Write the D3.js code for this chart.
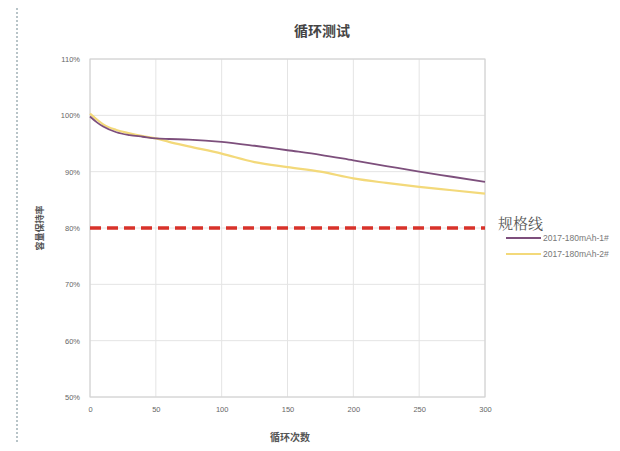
<!DOCTYPE html>
<html><head><meta charset="utf-8">
<script src="https://cdn.jsdelivr.net/npm/d3@7"></script>
<style>body{margin:0;background:#fff;}svg{display:block;}</style>
</head><body>
<svg id="c" width="620" height="451"></svg>
<script>
const cycles = [0,5,10,20,30,40,50,60,75,100,125,150,175,200,225,250,275,300];
const series1 = [99.8,98.8,98.0,97.0,96.5,96.2,95.9,95.8,95.7,95.3,94.6,93.8,93.0,92.0,91.0,90.0,89.1,88.2];
const series2 = [100.3,99.3,98.4,97.4,96.8,96.3,95.9,95.3,94.5,93.2,91.7,90.8,90.0,88.8,88.0,87.3,86.7,86.1];
const seriesNames = ["2017-180mAh-1#","2017-180mAh-2#"];
const specValue = 80;
const xTicks = [0,50,100,150,200,250,300];
const yTicks = [50,60,70,80,90,100,110];

const svg = d3.select("#c");
const m = {l:90,r:135,t:59,b:54};
const W = 620, H = 451;
const x = d3.scaleLinear().domain([0,300]).range([m.l, W-m.r]);
const y = d3.scaleLinear().domain([50,110]).range([H-m.b, m.t]);

// left dotted ruler line
svg.append("line").attr("x1",17).attr("x2",17).attr("y1",8).attr("y2",444)
  .attr("stroke","#b8c4c8").attr("stroke-width",2).attr("stroke-dasharray","2,2");

// grid
svg.append("g").selectAll("line").data(yTicks).join("line")
  .attr("x1",x(0)).attr("x2",x(300)).attr("y1",d=>y(d)).attr("y2",d=>y(d))
  .attr("stroke","#e4e4e4").attr("stroke-width",1);
svg.append("g").selectAll("line").data(xTicks).join("line")
  .attr("y1",y(50)).attr("y2",y(110)).attr("x1",d=>x(d)).attr("x2",d=>x(d))
  .attr("stroke","#e4e4e4").attr("stroke-width",1);
svg.append("rect").attr("x",x(0)).attr("y",y(110)).attr("width",x(300)-x(0)).attr("height",y(50)-y(110))
  .attr("fill","none").attr("stroke","#d0d0d0");

// axes
const xa = svg.append("g").attr("transform",`translate(0,${y(50)})`)
  .call(d3.axisBottom(x).tickValues(xTicks).tickSize(0).tickPadding(10));
const ya = svg.append("g").attr("transform",`translate(${x(0)},0)`)
  .call(d3.axisLeft(y).tickValues(yTicks).tickSize(0).tickPadding(10).tickFormat(d=>d+"%"));
[xa,ya].forEach(a=>{a.select(".domain").remove();
  a.selectAll("text").attr("fill","#666").attr("font-size","7.5px").attr("font-family","Liberation Sans, sans-serif");});

// spec line
svg.append("line").attr("x1",x(0)).attr("x2",x(300)).attr("y1",y(specValue)).attr("y2",y(specValue))
  .attr("stroke","#d8322a").attr("stroke-width",3.5).attr("stroke-dasharray","11,6");

const line = d3.line().x((d,i)=>x(cycles[i])).y(d=>y(d)).curve(d3.curveMonotoneX);
svg.append("path").datum(series2).attr("d",line).attr("fill","none")
  .attr("stroke","#f3d97a").attr("stroke-width",2.2);
svg.append("path").datum(series1).attr("d",line).attr("fill","none")
  .attr("stroke","#7d4f7c").attr("stroke-width",1.8);

// titles
svg.append("text").attr("x",322).attr("y",36).attr("text-anchor","middle")
  .attr("font-size","14px").attr("font-weight","bold").attr("fill","#444")
  .attr("font-family","Noto Sans CJK SC, sans-serif").text("循环测试");
svg.append("text").attr("x",290).attr("y",441).attr("text-anchor","middle")
  .attr("font-size","10px").attr("font-weight","bold").attr("fill","#555")
  .attr("font-family","Noto Sans CJK SC, sans-serif").text("循环次数");
svg.append("text").attr("transform","translate(43,228) rotate(-90)").attr("text-anchor","middle")
  .attr("font-size","9px").attr("font-weight","bold").attr("fill","#555")
  .attr("font-family","Noto Sans CJK SC, sans-serif").text("容量保持率");

// legend
svg.append("text").attr("x",498).attr("y",229).attr("font-size","15px").attr("fill","#555")
  .attr("font-family","Noto Serif CJK SC, Noto Sans CJK SC, serif").text("规格线");
const lg = svg.append("g");
const lc = ["#7d4f7c","#f3d97a"];
seriesNames.forEach((n,i)=>{
  const yy = 238 + i*16;
  lg.append("line").attr("x1",506).attr("x2",541).attr("y1",yy).attr("y2",yy)
    .attr("stroke",lc[i]).attr("stroke-width",2);
  lg.append("text").attr("x",543).attr("y",yy+3).attr("font-size","8.5px").attr("fill","#777")
    .attr("font-family","Liberation Sans, sans-serif").text(n);
});
</script>
</body></html>
